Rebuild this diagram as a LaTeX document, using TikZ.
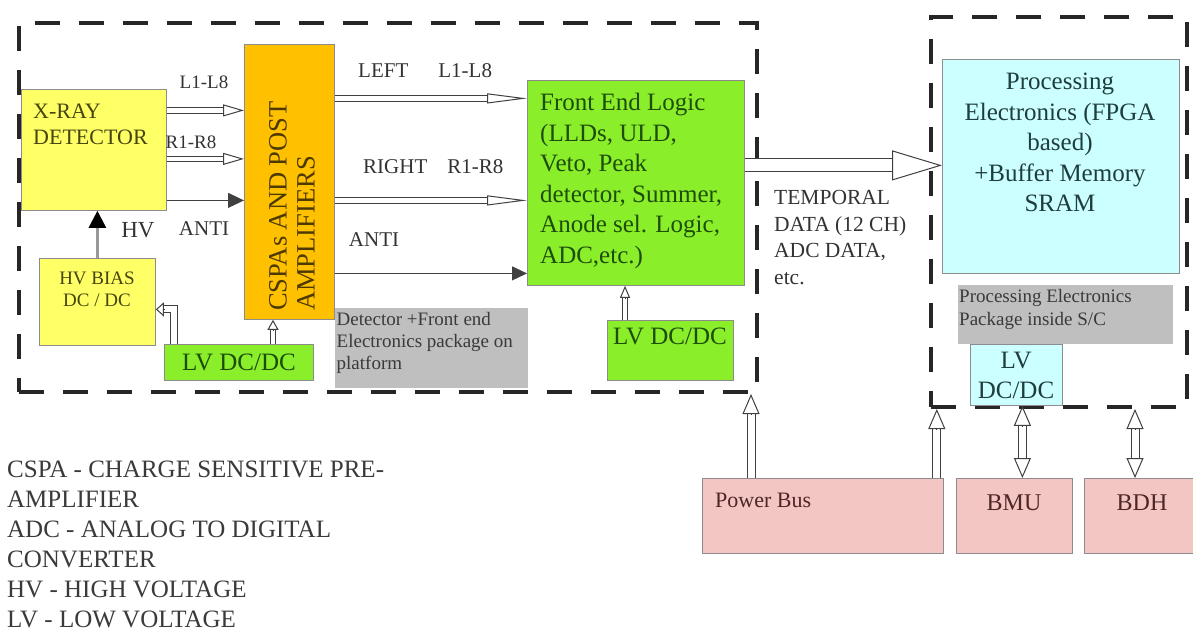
\documentclass[tikz,border=0pt]{standalone}
\usepackage{fontspec}
\setmainfont{Liberation Serif}
\usetikzlibrary{arrows.meta,calc}
\definecolor{yel}{HTML}{FFFF66}
\definecolor{org}{HTML}{FFC000}
\definecolor{grn}{HTML}{8AEE2A}
\definecolor{cyn}{HTML}{CCFFFF}
\definecolor{gry}{HTML}{BFBFBF}
\definecolor{pnk}{HTML}{F4C6C3}
\definecolor{dk}{HTML}{404040}
\definecolor{lab}{HTML}{333333}
\definecolor{dettxt}{HTML}{45450F}
\definecolor{feltxt}{HTML}{1E4D0A}
\definecolor{csptxt}{HTML}{4D3A00}
\definecolor{prtxt}{HTML}{1F3D3D}
\definecolor{grytxt}{HTML}{3A3A3A}
\definecolor{pktxt}{HTML}{4D2626}
\definecolor{lgd}{HTML}{3A3A3A}
\definecolor{hvg}{HTML}{999999}
\newcommand\fsz[2]{\fontsize{#1pt}{#2pt}\selectfont}
\newcommand\harr[5][]{%
  \draw[shaft,#1,shorten >=#4] (#2) -- (#3);
  \draw[tipline,-{Triangle[open,length=#4,width=#5]}] ($(#3)!#4!(#2)$) -- (#3);
}
\newcommand\harrb[5][]{%
  \draw[shaft,#1,shorten >=#4,shorten <=#4] (#2) -- (#3);
  \draw[tipline,-{Triangle[open,length=#4,width=#5]}] ($(#3)!#4!(#2)$) -- (#3);
  \draw[tipline,-{Triangle[open,length=#4,width=#5]}] ($(#2)!#4!(#3)$) -- (#2);
}
\begin{document}
\begin{tikzpicture}[x=1pt,y=-1pt,
  box/.style={draw=black!45, line width=0.8pt, anchor=north west, inner sep=0pt},
  pkg/.style={draw=black!85, line width=4pt, dash pattern=on 25pt off 19pt, anchor=north west, inner sep=0pt},
  txt/.style={inner sep=0pt, text=lab},
  shaft/.style={draw=dk, line width=1pt, double=white, double distance=4.5pt},
  tipline/.style={draw=dk, line width=1pt},
  solidarr/.style={draw=dk, line width=1pt}]
\fill[white] (0,0) rectangle (1193,635);
\useasboundingbox (0,0) rectangle (1193,635);
% packages
\node[pkg, minimum width=738pt, minimum height=369pt] (lpkg) at (17,21) {};
\node[pkg, minimum width=256pt, minimum height=390pt] (rpkg) at (929,15) {};
% boxes
\node[box, fill=yel, minimum width=145pt, minimum height=121pt] (det) at (21,89) {};
\node[box, fill=org, minimum width=90pt, minimum height=275pt] (cspa) at (244,44) {};
\node[box, fill=yel, minimum width=116pt, minimum height=87pt] (hvb) at (39,258) {};
\node[box, fill=grn, minimum width=149pt, minimum height=36pt] (lvl) at (164,344) {};
\node[box, draw=none, fill=gry, minimum width=193pt, minimum height=80pt] (g1) at (335,308) {};
\node[box, fill=grn, minimum width=217pt, minimum height=205pt] (fel) at (527,80) {};
\node[box, fill=grn, minimum width=126pt, minimum height=60pt] (lvm) at (607,320) {};
\node[box, fill=cyn, minimum width=237pt, minimum height=214pt] (proc) at (942,59) {};
\node[box, draw=none, fill=gry, minimum width=215pt, minimum height=59pt] (g2) at (958,285) {};
\node[box, fill=cyn, minimum width=92pt, minimum height=61pt] (lvr) at (970,344) {};
\node[box, fill=pnk, minimum width=241pt, minimum height=75pt] (pbus) at (702,478) {};
\node[box, fill=pnk, minimum width=116pt, minimum height=75pt] (bmu) at (956,478) {};
\node[box, fill=pnk, minimum width=116pt, minimum height=75pt] (bdh) at (1084,478) {};
% texts
\node[txt, text=dettxt, anchor=north west, align=left, font=\fsz{22}{26}] (tdet) at (33,103.5) {X-RAY\\DETECTOR};
\node[txt, text=dettxt, anchor=north, align=center, font=\fsz{19}{22}] (thvb) at (97,272) {HV BIAS\\DC / DC};
\node[txt, text=feltxt, font=\fsz{25}{30}] (tlvl) at (lvl.center) {LV DC/DC};
\node[txt, text=csptxt, rotate=90, anchor=west, align=left, font=\fsz{26.5}{28}] (tcspa) at (292,311) {CSPAs AND POST\\AMPLIFIERS};
\node[txt, text=grytxt, anchor=north west, align=left, font=\fsz{19}{22}] (tg1) at (336.5,312) {Detector +Front end\\Electronics package on\\platform};
\node[txt, text=feltxt, anchor=north west, align=left, font=\fsz{25}{30.5}] (tfel) at (540,93) {Front End Logic\\(LLDs, ULD,\\Veto, Peak\\detector, Summer,\\Anode sel. Logic,\\ADC,etc.)};
\node[txt, text=feltxt, anchor=north, font=\fsz{25}{30}] (tlvm) at (670,328) {LV DC/DC};
\node[txt, text=prtxt, anchor=north, align=center, font=\fsz{25}{30.5}] (tproc) at (1060,73) {Processing\\Electronics (FPGA\\based)\\+Buffer Memory\\SRAM};
\node[txt, text=grytxt, anchor=north west, align=left, font=\fsz{19}{23}] (tg2) at (959,289) {Processing Electronics\\Package inside S/C};
\node[txt, text=prtxt, anchor=north, align=center, font=\fsz{25}{30}] (tlvr) at (1016,351.5) {LV\\DC/DC};
\node[txt, text=pktxt, anchor=north west, font=\fsz{22}{26}] (tpb) at (715,493) {Power Bus};
\node[txt, text=pktxt, font=\fsz{24}{28}] (tbmu) at (1014,502.5) {BMU};
\node[txt, text=pktxt, font=\fsz{24}{28}] (tbdh) at (1142,503) {BDH};
\node[txt, anchor=north west, align=left, font=\fsz{21.5}{26.7}] (ttemp) at (774,190) {TEMPORAL\\DATA (12 CH)\\ADC DATA,\\etc.};
\node[txt, font=\fsz{19}{22}] (tl18) at (204,82) {L1-L8};
\node[txt, font=\fsz{19}{22}] (tr18) at (191,142) {R1-R8};
\node[txt, font=\fsz{21}{24}] (tanti1) at (204,228.5) {ANTI};
\node[txt, font=\fsz{23}{26}] (thv) at (138,230.5) {HV};
\node[txt, anchor=west, font=\fsz{21}{24}] (tleft) at (358,71) {LEFT\hspace{30pt}L1-L8};
\node[txt, anchor=west, font=\fsz{21}{24}] (tright) at (363,167) {RIGHT\hspace{20pt}R1-R8};
\node[txt, font=\fsz{21}{24}] (tanti2) at (374,239.5) {ANTI};
\node[txt, text=lgd, anchor=north west, align=left, font=\fsz{25}{30}] (tlgd) at (7,461) {CSPA - CHARGE SENSITIVE PRE-\\AMPLIFIER\\ADC - ANALOG TO DIGITAL\\CONVERTER\\HV - HIGH VOLTAGE\\LV - LOW VOLTAGE};
% connectors: detector -> CSPA
\coordinate (a1s) at ([yshift=39.5pt]det.east);
\coordinate (a1e) at (a1s -| cspa.west);
\harr{a1s}{a1e}{21pt}{12pt}
\coordinate (a2s) at ([yshift=-9pt]det.east);
\coordinate (a2e) at (a2s -| cspa.west);
\harr{a2s}{a2e}{21pt}{12pt}
\coordinate (a3s) at ([yshift=-50.5pt]det.east);
\coordinate (a3e) at (a3s -| cspa.west);
\draw[solidarr, -{Triangle[length=16pt,width=15pt]}] (a3s) -- (a3e);
% HV
\draw[draw=hvg, line width=2.5pt, -{Triangle[length=17pt,width=17pt,color=black]}] (hvb.north) -- (hvb.north |- det.south);
% LV -> HV bias (elbow)
\coordinate (e1s) at ([xshift=10pt]lvl.north west);
\coordinate (e1e) at ([yshift=-7.5pt]hvb.east);
\draw[shaft, double distance=6pt, shorten >=8pt] (e1s) |- (e1e);
\draw[tipline, -{Triangle[open,length=8pt,width=14pt]}] ([xshift=8pt]e1e) -- (e1e);
% LV -> CSPA
\coordinate (c1s) at ([xshift=109pt]lvl.north west);
\coordinate (c1e) at (c1s |- cspa.south);
\harr{c1s}{c1e}{10pt}{11pt}
% CSPA -> FEL
\coordinate (b1s) at ([yshift=83.5pt]cspa.east);
\coordinate (b1e) at (b1s -| fel.west);
\harr{b1s}{b1e}{40pt}{10pt}
\coordinate (b2s) at ([yshift=-18.5pt]cspa.east);
\coordinate (b2e) at (b2s -| fel.west);
\harr{b2s}{b2e}{40pt}{10pt}
\coordinate (b3s) at ([yshift=-91.5pt]cspa.east);
\coordinate (b3e) at (b3s -| fel.west);
\draw[solidarr, -{Triangle[length=15pt,width=14pt]}] (b3s) -- (b3e);
% LV mid -> FEL
\coordinate (c2s) at ([xshift=18pt]lvm.north west);
\coordinate (c2e) at (c2s |- fel.south);
\harr{c2s}{c2e}{12pt}{10pt}
% FEL -> processing
\coordinate (d1s) at ([yshift=17.5pt]fel.east);
\coordinate (d1e) at (d1s -| proc.west);
\harr[double distance=12pt]{d1s}{d1e}{50pt}{30pt}
% power bus etc.
\coordinate (p1s) at ([xshift=49pt]pbus.north west);
\coordinate (p1e) at (p1s |- lpkg.south);
\harr[double distance=7pt]{p1s}{p1e}{20pt}{17pt}
\coordinate (p2s) at ([xshift=-7pt]pbus.north east);
\coordinate (p2e) at (p2s |- rpkg.south);
\harr[double distance=7pt]{p2s}{p2e}{20pt}{17pt}
\coordinate (m1s) at ([xshift=8pt]bmu.north);
\coordinate (m1e) at (m1s |- lvr.south);
\harrb[double distance=7pt]{m1s}{m1e}{20pt}{17pt}
\coordinate (h1s) at ([xshift=51pt]bdh.north west);
\coordinate (h1e) at (h1s |- rpkg.south);
\harrb[double distance=7pt]{h1s}{h1e}{20pt}{17pt}
\end{tikzpicture}
\end{document}
